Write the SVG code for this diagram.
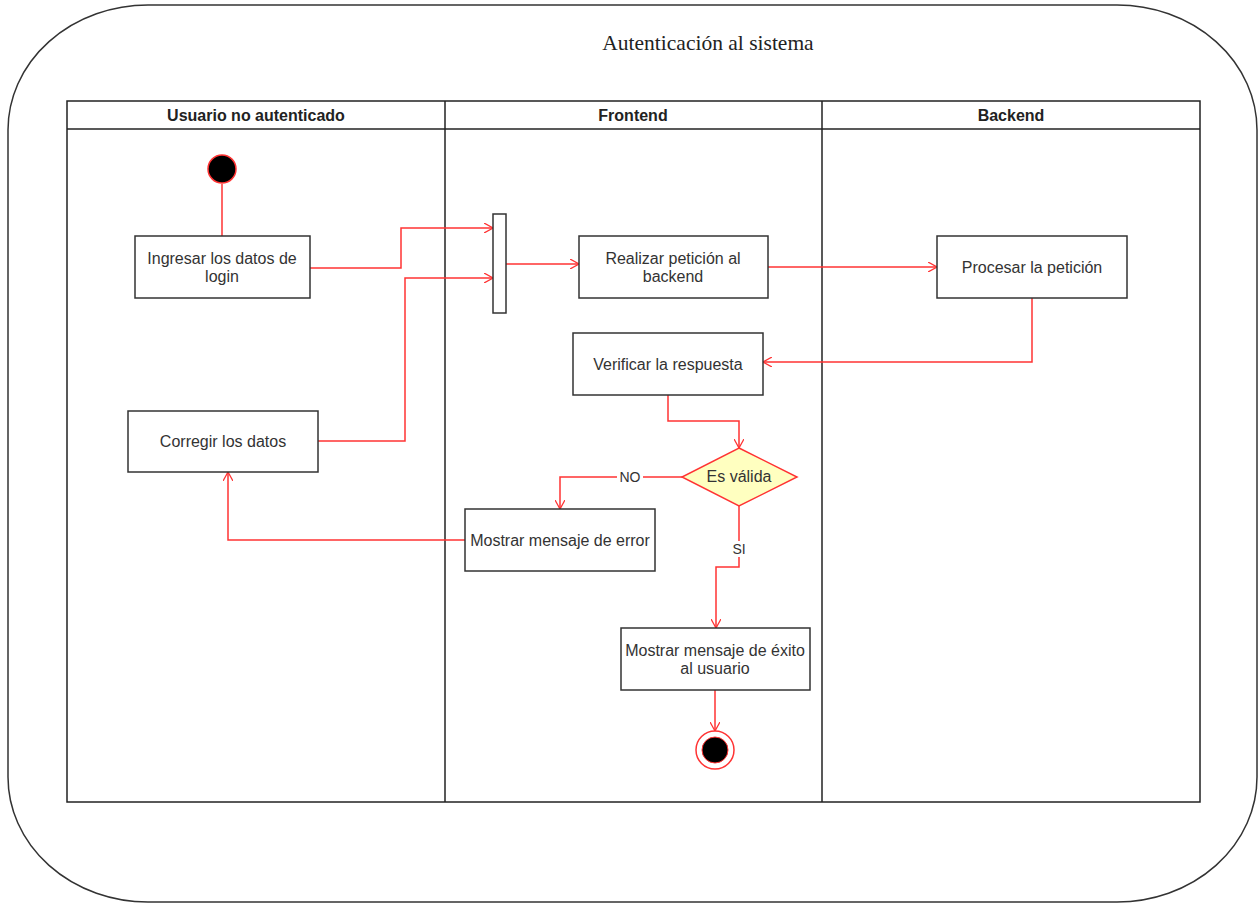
<svg xmlns="http://www.w3.org/2000/svg" width="1259" height="904" viewBox="0 0 1259 904">
<defs>
<marker id="arr" viewBox="0 0 10 10" refX="9" refY="5" markerWidth="10" markerHeight="10" markerUnits="userSpaceOnUse" orient="auto">
<path d="M0,0 L9,5 L0,10" fill="none" stroke="#FF3333" stroke-width="1.3"/>
</marker>
<style>
.box{fill:#fff;stroke:#333;stroke-width:1.5}
.lane{fill:none;stroke:#222;stroke-width:1.5}
.t{font-family:"Liberation Sans",Arial,sans-serif;font-size:16px;fill:#333;text-anchor:middle}
.h{font-family:"Liberation Sans",Arial,sans-serif;font-size:16px;font-weight:bold;fill:#222;text-anchor:middle}
.c{fill:none;stroke:#FF3333;stroke-width:1.5}
.lbl{font-family:"Liberation Sans",Arial,sans-serif;font-size:14px;fill:#333;text-anchor:middle}
</style>
</defs>
<rect width="1259" height="904" fill="#fff"/>
<rect x="8" y="5" width="1249" height="897" rx="140" ry="125" fill="none" stroke="#333" stroke-width="1.5"/>
<text x="708" y="50" font-family="'Liberation Serif','Times New Roman',serif" font-size="21.5" fill="#222" text-anchor="middle">Autenticación al sistema</text>

<g id="pool">
<rect class="lane" x="67" y="101" width="1133" height="701"/>
<line class="lane" x1="67" y1="129" x2="1200" y2="129"/>
<line class="lane" x1="445" y1="101" x2="445" y2="802"/>
<line class="lane" x1="822" y1="101" x2="822" y2="802"/>
<text class="h" x="256" y="121">Usuario no autenticado</text>
<text class="h" x="633" y="121">Frontend</text>
<text class="h" x="1011" y="121">Backend</text>
</g>

<g id="connectors">
<path class="c" d="M222,184 L222,236"/>
<path class="c" d="M310,268 L401,268 L401,228 L493,228" marker-end="url(#arr)"/>
<path class="c" d="M318,441 L405,441 L405,278 L493,278" marker-end="url(#arr)"/>
<path class="c" d="M506,264 L579,264" marker-end="url(#arr)"/>
<path class="c" d="M768,267 L937,267" marker-end="url(#arr)"/>
<path class="c" d="M1032,298 L1032,362 L763,362" marker-end="url(#arr)"/>
<path class="c" d="M668,395 L668,421 L739,421 L739,448" marker-end="url(#arr)"/>
<path class="c" d="M682,477 L560,477 L560,509" marker-end="url(#arr)"/>
<path class="c" d="M739,506 L739,567 L716,567 L716,628" marker-end="url(#arr)"/>
<path class="c" d="M465,540 L228,540 L228,472" marker-end="url(#arr)"/>
<path class="c" d="M715,690 L715,731" marker-end="url(#arr)"/>
<rect x="617" y="469" width="26" height="16" fill="#fff"/>
<text class="lbl" x="630" y="482">NO</text>
<rect x="730" y="541" width="18" height="16" fill="#fff"/>
<text class="lbl" x="739" y="554">SI</text>
</g>

<g id="start"><circle cx="222" cy="169" r="14" fill="#000" stroke="#FF3333" stroke-width="1.5"/></g>
<g id="ingresar"><rect class="box" x="135" y="236" width="175" height="62"/>
<text class="t" x="222" y="264">Ingresar los datos de</text><text class="t" x="222" y="282">login</text></g>
<g id="fork"><rect class="box" x="493" y="214" width="13" height="99"/></g>
<g id="realizar"><rect class="box" x="579" y="236" width="189" height="62"/>
<text class="t" x="673" y="264">Realizar petición al</text><text class="t" x="673" y="282">backend</text></g>
<g id="procesar"><rect class="box" x="937" y="236" width="190" height="62"/>
<text class="t" x="1032" y="273">Procesar la petición</text></g>
<g id="verificar"><rect class="box" x="573" y="333" width="190" height="62"/>
<text class="t" x="668" y="370">Verificar la respuesta</text></g>
<g id="decision"><polygon points="739,448 797,477 739,506 682,477" fill="#FFFFC0" stroke="#FF3333" stroke-width="1.5"/>
<text class="t" x="739" y="482">Es válida</text></g>
<g id="error"><rect class="box" x="465" y="509" width="190" height="62"/>
<text class="t" x="560" y="546">Mostrar mensaje de error</text></g>
<g id="corregir"><rect class="box" x="128" y="411" width="190" height="61"/>
<text class="t" x="223" y="447">Corregir los datos</text></g>
<g id="exito"><rect class="box" x="621" y="628" width="189" height="62"/>
<text class="t" x="715" y="656">Mostrar mensaje de éxito</text><text class="t" x="715" y="674">al usuario</text></g>
<g id="end"><circle cx="715" cy="750" r="19" fill="#fff" stroke="#FF3333" stroke-width="1.5"/>
<circle cx="715" cy="750" r="13" fill="#000" stroke="#FF3333" stroke-width="1"/></g>
</svg>
